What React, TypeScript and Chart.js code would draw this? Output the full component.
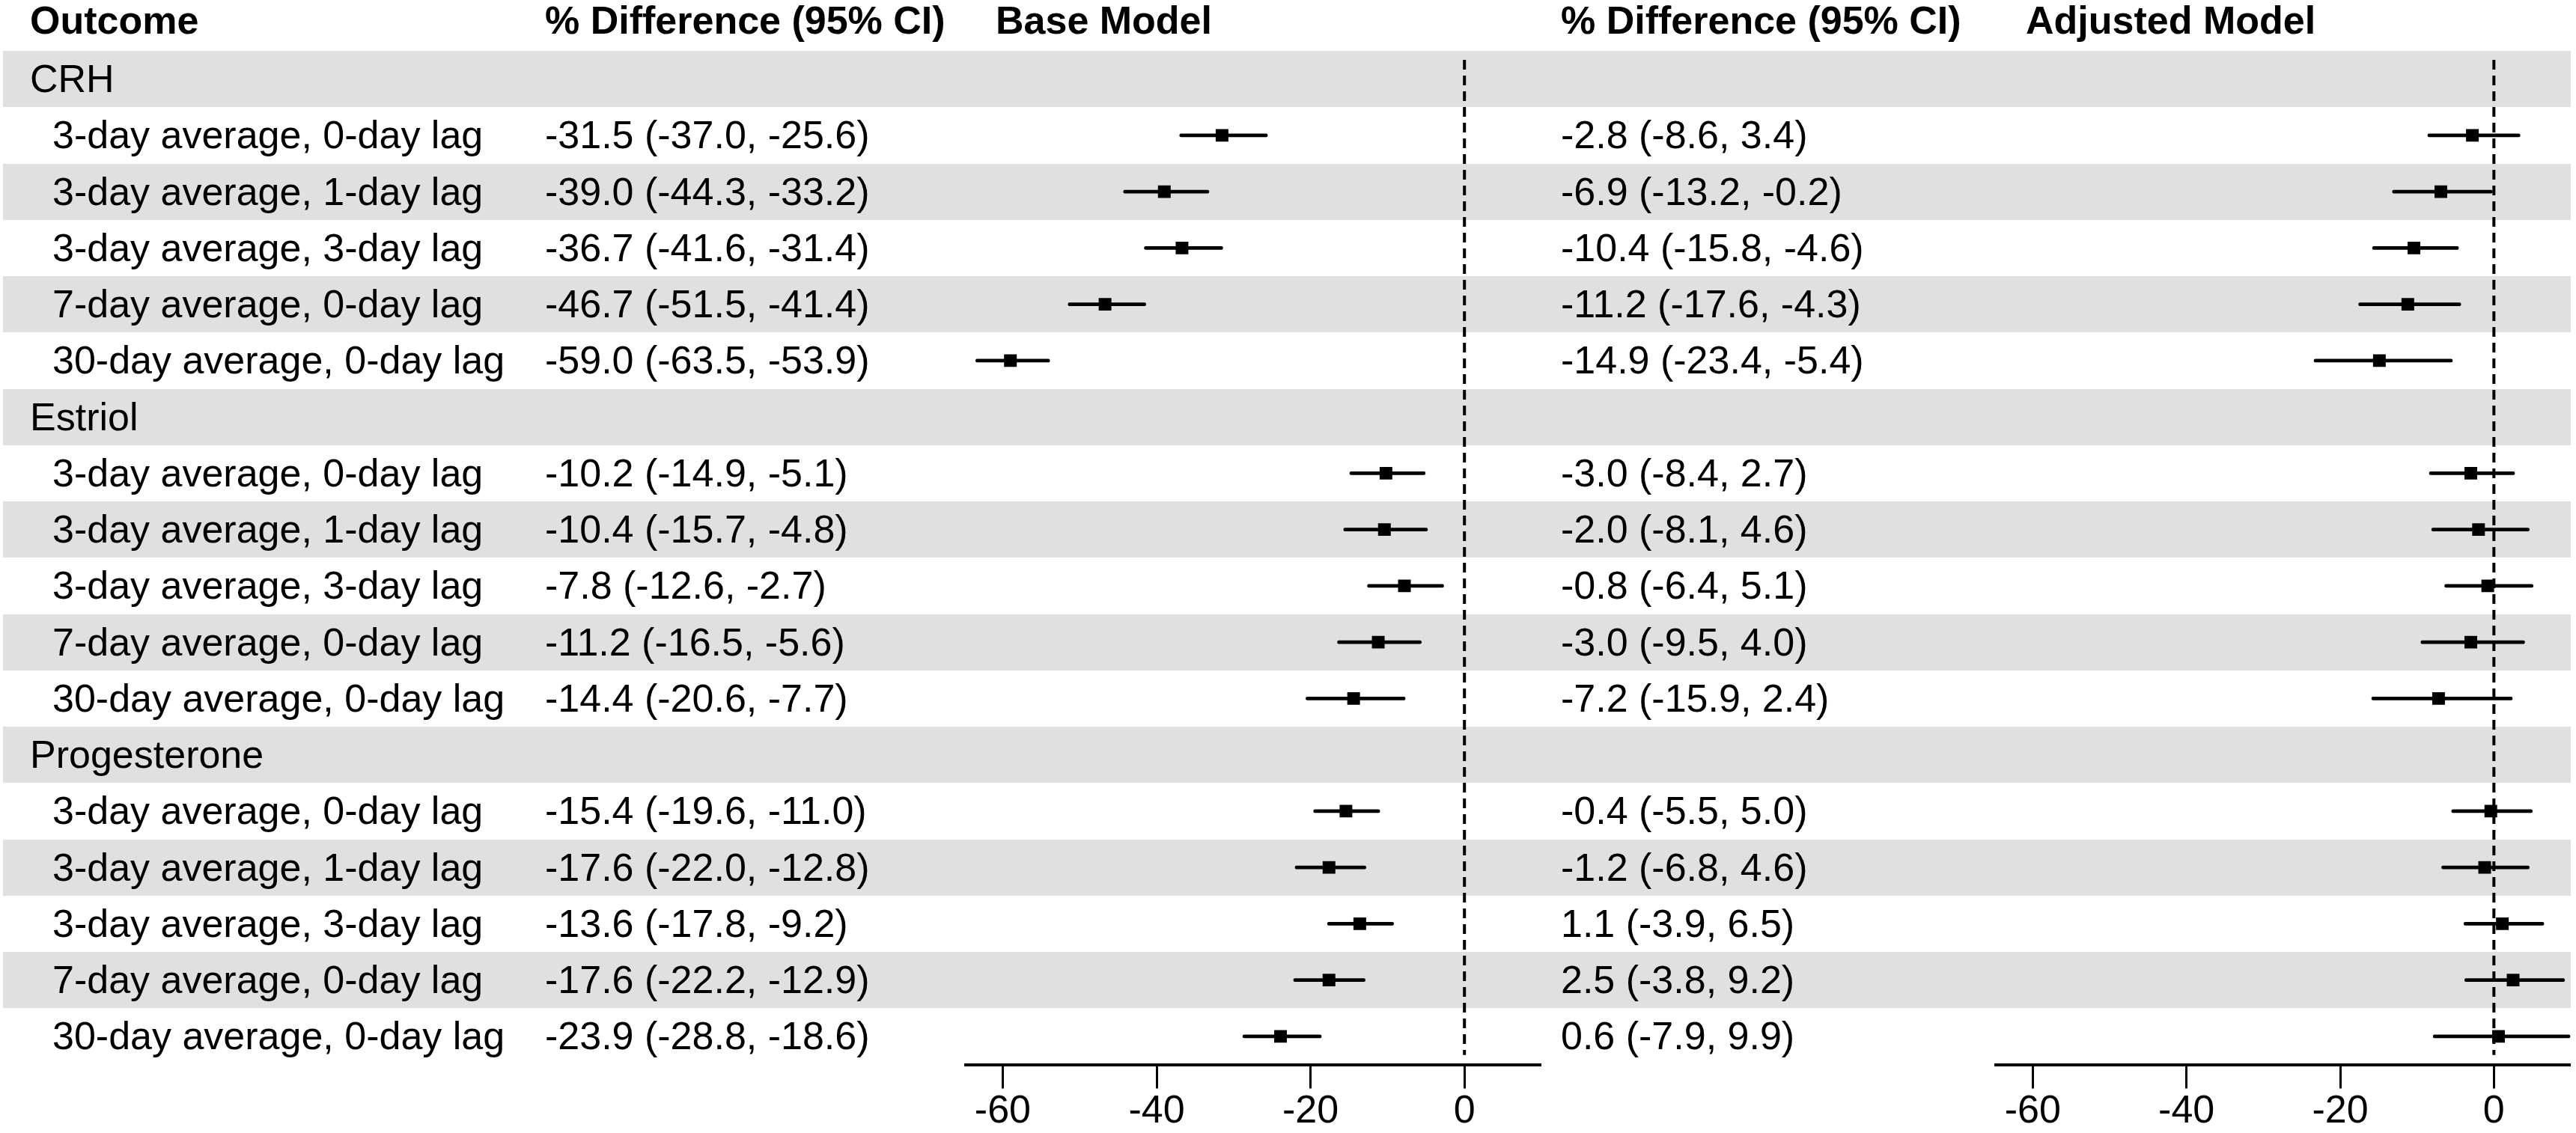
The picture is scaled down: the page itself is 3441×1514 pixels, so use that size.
import React, { useEffect, useRef } from 'react';
import { Chart, registerables } from 'chart.js';

Chart.register(...registerables);

// ---- Data -----------------------------------------------------------------
const GROUPS = ['CRH', 'Estriol', 'Progesterone'];
const EXPOSURES = [
  '3-day average, 0-day lag',
  '3-day average, 1-day lag',
  '3-day average, 3-day lag',
  '7-day average, 0-day lag',
  '30-day average, 0-day lag',
];

// Base model: % difference with 95% CI (CRH, Estriol, Progesterone × exposures)
const BASE_EST = [-31.5, -39.0, -36.7, -46.7, -59.0, -10.2, -10.4, -7.8, -11.2, -14.4, -15.4, -17.6, -13.6, -17.6, -23.9];
const BASE_LO = [-37.0, -44.3, -41.6, -51.5, -63.5, -14.9, -15.7, -12.6, -16.5, -20.6, -19.6, -22.0, -17.8, -22.2, -28.8];
const BASE_HI = [-25.6, -33.2, -31.4, -41.4, -53.9, -5.1, -4.8, -2.7, -5.6, -7.7, -11.0, -12.8, -9.2, -12.9, -18.6];

// Adjusted model
const ADJ_EST = [-2.8, -6.9, -10.4, -11.2, -14.9, -3.0, -2.0, -0.8, -3.0, -7.2, -0.4, -1.2, 1.1, 2.5, 0.6];
const ADJ_LO = [-8.6, -13.2, -15.8, -17.6, -23.4, -8.4, -8.1, -6.4, -9.5, -15.9, -5.5, -6.8, -3.9, -3.8, -7.9];
const ADJ_HI = [3.4, -0.2, -4.6, -4.3, -5.4, 2.7, 4.6, 5.1, 4.0, 2.4, 5.0, 4.6, 6.5, 9.2, 9.9];

const X_TICKS = [-60, -40, -20, 0];
const X_MIN = -65;
const X_MAX = 10;
const NULL_VALUE = 0;

// ---- Layout ---------------------------------------------------------------
const W = 3441;
const H = 1514;
const ROW_TOP = 68;
const ROW_H = 75.25;
const FONT = '"Liberation Sans", Arial, Helvetica, sans-serif';
const FONT_SIZE = 52;
const STRIPE = '#e0e0e0';
const STRIPE_LEFT = 4;
const STRIPE_RIGHT = 3434;

type Row = { label: string; group: boolean; idx: number };
const ROWS: Row[] = [];
GROUPS.forEach((g, gi) => {
  ROWS.push({ label: g, group: true, idx: -1 });
  EXPOSURES.forEach((e, ei) => ROWS.push({ label: e, group: false, idx: gi * EXPOSURES.length + ei }));
});
const N_ROWS = ROWS.length;
const AXIS_H = H - (ROW_TOP + ROW_H * N_ROWS);
// row position (y-scale value) of each estimate
const ROW_OF: number[] = [];
ROWS.forEach((r, i) => {
  if (!r.group) ROW_OF[r.idx] = i;
});

const fmt = (v: number) => v.toFixed(1);
const ciText = (est: number[], lo: number[], hi: number[], k: number) =>
  `${fmt(est[k])} (${fmt(lo[k])}, ${fmt(hi[k])})`;

type PanelProps = { est: number[]; lo: number[]; hi: number[]; left: number; width: number };

function ForestPanel({ est, lo, hi, left, width }: PanelProps) {
  const ref = useRef<HTMLCanvasElement | null>(null);
  const height = H - ROW_TOP;

  useEffect(() => {
    if (!ref.current) return;
    const ciData = est.map((_, k) => ({ x: [lo[k], hi[k]], y: ROW_OF[k] }));
    const ptData = est.map((v, k) => ({ x: v, y: ROW_OF[k] }));
    const chart = new Chart(ref.current, {
      type: 'bar',
      data: {
        datasets: [
          {
            type: 'line',
            data: [
              { x: NULL_VALUE, y: -0.34 },
              { x: NULL_VALUE, y: N_ROWS - 1 + 0.33 },
            ],
            borderColor: '#000',
            borderWidth: 4,
            borderDash: [13, 8],
            pointRadius: 0,
            fill: false,
            order: 3,
          } as any,
          {
            type: 'bar',
            indexAxis: 'y',
            data: ciData,
            backgroundColor: '#000',
            borderWidth: 0,
            barThickness: 4,
            borderRadius: 2,
            borderSkipped: false,
            order: 2,
          } as any,
          {
            type: 'scatter',
            data: ptData,
            pointStyle: 'rect',
            pointRadius: 12,
            pointHoverRadius: 12,
            backgroundColor: '#000',
            borderWidth: 0,
            order: 1,
          } as any,
        ],
      },
      options: {
        animation: false,
        responsive: false,
        events: [],
        layout: { padding: 0, autoPadding: false },
        plugins: { legend: { display: false }, tooltip: { enabled: false } },
        scales: {
          x: {
            type: 'linear',
            position: 'bottom',
            offset: false,
            min: X_MIN,
            max: X_MAX,
            afterBuildTicks: (s: any) => {
              s.ticks = X_TICKS.map((value) => ({ value }));
            },
            afterFit: (s: any) => {
              s.height = AXIS_H;
            },
            grid: {
              display: true,
              offset: false,
              drawOnChartArea: false,
              drawTicks: true,
              tickLength: 32,
              tickWidth: 3,
              tickColor: '#000',
              color: '#000',
              lineWidth: 3,
            },
            border: { display: true, color: '#000', width: 4 },
            ticks: {
              color: '#000',
              padding: 0,
              autoSkip: false,
              maxRotation: 0,
              font: { family: FONT, size: FONT_SIZE },
              callback: (v: any) => String(v),
            },
          },
          y: {
            type: 'linear',
            offset: false,
            grid: { offset: false },
            min: -0.5,
            max: N_ROWS - 0.5,
            reverse: true,
            display: false,
          },
        },
      } as any,
    });
    return () => chart.destroy();
  }, [est, lo, hi]);

  return (
    <canvas
      ref={ref}
      width={width}
      height={height}
      style={{ position: 'absolute', left, top: ROW_TOP, width, height, display: 'block' }}
    />
  );
}

const headerStyle = (left: number): React.CSSProperties => ({
  position: 'absolute',
  left,
  top: -7,
  height: 68,
  lineHeight: '68px',
  fontWeight: 'bold',
  whiteSpace: 'nowrap',
});

const cellStyle = (left: number, i: number): React.CSSProperties => ({
  position: 'absolute',
  left,
  top: ROW_TOP + i * ROW_H,
  height: ROW_H,
  lineHeight: `${ROW_H}px`,
  whiteSpace: 'nowrap',
});

export default function App() {
  return (
    <div
      style={{
        position: 'absolute',
        left: 0,
        top: 0,
        width: W,
        height: H,
        overflow: 'hidden',
        background: '#fff',
        color: '#000',
        fontFamily: FONT,
        fontSize: FONT_SIZE,
      }}
    >
      {ROWS.map((_, i) =>
        i % 2 === 0 ? (
          <div
            key={'stripe' + i}
            style={{
              position: 'absolute',
              left: STRIPE_LEFT,
              width: STRIPE_RIGHT - STRIPE_LEFT,
              top: ROW_TOP + i * ROW_H,
              height: ROW_H,
              background: STRIPE,
            }}
          />
        ) : null
      )}

      <div style={headerStyle(40)}>Outcome</div>
      <div style={headerStyle(728)}>% Difference (95% CI)</div>
      <div style={headerStyle(1330)}>Base Model</div>
      <div style={headerStyle(2085)}>% Difference (95% CI)</div>
      <div style={headerStyle(2706)}>Adjusted Model</div>

      {ROWS.map((r, i) => (
        <React.Fragment key={'row' + i}>
          <div style={cellStyle(r.group ? 40 : 70, i)}>{r.label}</div>
          {!r.group && <div style={cellStyle(728, i)}>{ciText(BASE_EST, BASE_LO, BASE_HI, r.idx)}</div>}
          {!r.group && <div style={cellStyle(2085, i)}>{ciText(ADJ_EST, ADJ_LO, ADJ_HI, r.idx)}</div>}
        </React.Fragment>
      ))}

      <ForestPanel est={BASE_EST} lo={BASE_LO} hi={BASE_HI} left={1288} width={771} />
      <ForestPanel est={ADJ_EST} lo={ADJ_LO} hi={ADJ_HI} left={2664} width={770} />
    </div>
  );
}
